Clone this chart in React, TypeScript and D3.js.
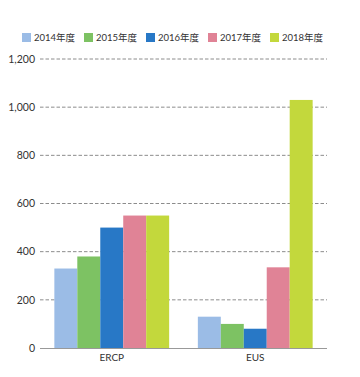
import React, { useEffect, useRef } from "react";
import * as d3 from "d3";

const categories = ["ERCP", "EUS"];
const years = ["2014年度", "2015年度", "2016年度", "2017年度", "2018年度"];
const colors = ["#9bbce6", "#7dc263", "#2878c6", "#e08396", "#c3d83c"];
const ercpValues = [330, 380, 500, 550, 550];
const eusValues = [130, 100, 80, 335, 1030];
const yTicks = [0, 200, 400, 600, 800, 1000, 1200];

const FONT = "'Lato', 'Noto Sans CJK JP', sans-serif";

export default function App() {
  const ref = useRef<SVGSVGElement>(null);

  useEffect(() => {
    const W = 360;
    const H = 377;
    const svg = d3.select(ref.current).attr("width", W).attr("height", H);
    svg.selectAll("*").remove();

    const left = 40;
    const right = 327;
    const top = 59;
    const bottom = 348;

    const x = d3
      .scaleBand()
      .domain(categories)
      .range([left, right])
      .paddingInner(0.2)
      .paddingOuter(0.1);

    const xInner = d3.scaleBand().domain(years).range([0, x.bandwidth()]);

    const y = d3.scaleLinear().domain([0, 1200]).range([bottom, top]);

    // grid lines (except baseline)
    svg
      .append("g")
      .selectAll("line")
      .data(yTicks.filter((t) => t > 0))
      .enter()
      .append("line")
      .attr("x1", left)
      .attr("x2", right)
      .attr("y1", (d) => y(d))
      .attr("y2", (d) => y(d))
      .attr("stroke", "#8c8c8c")
      .attr("stroke-width", 1)
      .attr("stroke-dasharray", "3.5,2");

    // tick labels
    svg
      .append("g")
      .selectAll("text")
      .data(yTicks)
      .enter()
      .append("text")
      .attr("x", 35)
      .attr("y", (d) => y(d))
      .attr("dy", "0.35em")
      .attr("text-anchor", "end")
      .style("font-family", FONT)
      .style("font-size", "10.5px")
      .attr("fill", "#333")
      .text((d) => d3.format(",")(d));

    const data = categories.map((c, i) => ({
      cat: c,
      values: i === 0 ? ercpValues : eusValues,
    }));

    const groups = svg
      .append("g")
      .selectAll("g")
      .data(data)
      .enter()
      .append("g")
      .attr("transform", (d) => `translate(${x(d.cat)},0)`);

    groups
      .selectAll("rect")
      .data((d) => d.values.map((v, j) => ({ year: years[j], value: v, color: colors[j] })))
      .enter()
      .append("rect")
      .attr("x", (d) => xInner(d.year)!)
      .attr("width", xInner.bandwidth())
      .attr("y", (d) => y(d.value))
      .attr("height", (d) => bottom - y(d.value))
      .attr("fill", (d) => d.color);

    // baseline
    svg
      .append("line")
      .attr("x1", left)
      .attr("x2", right)
      .attr("y1", bottom + 0.5)
      .attr("y2", bottom + 0.5)
      .attr("stroke", "#999")
      .attr("stroke-width", 1);

    // category labels
    svg
      .append("g")
      .selectAll("text")
      .data(categories)
      .enter()
      .append("text")
      .attr("x", (d) => x(d)! + x.bandwidth() / 2)
      .attr("y", bottom + 13)
      .attr("text-anchor", "middle")
      .style("font-family", FONT)
      .style("font-size", "10px")
      .attr("fill", "#333")
      .text((d) => d);

    // legend
    const legendX = d3.scalePoint().domain(years).range([22, 270]);
    const legend = svg
      .append("g")
      .selectAll("g")
      .data(years)
      .enter()
      .append("g")
      .attr("transform", (d) => `translate(${legendX(d)},33)`);

    legend
      .append("rect")
      .attr("width", 9)
      .attr("height", 9)
      .attr("fill", (d, i) => colors[i]);

    legend
      .append("text")
      .attr("x", 12)
      .attr("y", 4.5)
      .attr("dy", "0.35em")
      .style("font-family", FONT)
      .style("font-size", "9.5px")
      .attr("fill", "#333")
      .text((d) => d);
  }, []);

  return <svg ref={ref} style={{ position: "absolute", left: 0, top: 0 }} />;
}
